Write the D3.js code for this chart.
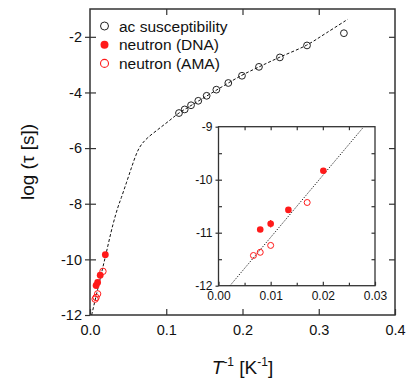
<!DOCTYPE html>
<html>
<head>
<meta charset="utf-8">
<script src="https://cdn.jsdelivr.net/npm/d3@7"></script>
<style>
  html, body { margin: 0; padding: 0; background: #fff; }
  svg { display: block; font-family: "Liberation Sans", Arial, Helvetica, sans-serif; }
</style>
</head>
<body>
<div id="chart"></div>
<script>
// ac susceptibility (black open circles)
const acX = [0.1167, 0.1242, 0.1325, 0.1420, 0.1530, 0.1657, 0.1814, 0.1993, 0.2216, 0.2490, 0.2846, 0.3330];
const acY = [-4.74, -4.61, -4.46, -4.30, -4.12, -3.90, -3.66, -3.40, -3.08, -2.74, -2.31, -1.87];

// neutron DNA (red filled) and AMA (red open)
const dnaX = [0.0080, 0.0100, 0.0134, 0.0201];
const dnaY = [-10.94, -10.83, -10.57, -9.83];
const dnaErr = [0.03, 0.07, 0.03, 0.03];
const amaX = [0.0067, 0.0080, 0.0100, 0.0170];
const amaY = [-11.43, -11.37, -11.24, -10.43];

// dashed fit curve
const fitX = [0.0022, 0.010, 0.020, 0.030, 0.0367, 0.0411, 0.0477, 0.0542, 0.0600, 0.0645, 0.0690, 0.0760, 0.0892, 0.1023, 0.1167, 0.1355, 0.1650, 0.1980, 0.2210, 0.2490, 0.2840, 0.3100, 0.3380];
const fitY = [-12.0, -11.08, -9.92, -8.76, -8.12, -7.78, -7.25, -6.72, -6.27, -6.00, -5.82, -5.62, -5.33, -5.05, -4.74, -4.42, -3.93, -3.40, -3.09, -2.73, -2.30, -1.86, -1.37];

// dotted line in the inset
const arrX = [0.0022, 0.0276];
const arrY = [-12.0, -9.03];

const mainXTicks = [0, 0.1, 0.2, 0.3, 0.4];
const mainXLabels = ["0.0", "0.1", "0.2", "0.3", "0.4"];
const mainYTicks = [-12, -10, -8, -6, -4, -2];
const mainYLabels = ["-12", "-10", "-8", "-6", "-4", "-2"];
const insetXTicks = [0, 0.01, 0.02, 0.03];
const insetXLabels = ["0.00", "0.01", "0.02", "0.03"];
const insetYTicks = [-12, -11, -10, -9];
const insetYLabels = ["-12", "-11", "-10", "-9"];
const insetXMinor = [0.005, 0.015, 0.025];
const insetYMinor = [-11.5, -10.5, -9.5];

const legendLabels = ["ac susceptibility", "neutron (DNA)", "neutron (AMA)"];

const width = 412, height = 381;
const red = "#ff1a1a";

const svg = d3.select("#chart").append("svg")
  .attr("width", width).attr("height", height);

// ---- main panel ----
const x = d3.scaleLinear().domain([0, 0.4]).range([90, 395]);
const y = d3.scaleLinear().domain([-12, -1]).range([315, 9]);

svg.append("defs").append("clipPath").attr("id", "mainClip")
  .append("rect").attr("x", 90).attr("y", 9).attr("width", 305).attr("height", 306);

function styleAxis(g, size) {
  g.select(".domain").remove();
  g.selectAll("line").attr("stroke", "#333").attr("stroke-width", 1.2);
  g.selectAll("text").attr("fill", "#111").style("font-size", size + "px");
}

// bottom (inward ticks)
svg.append("g").attr("transform", "translate(0,315)")
  .call(d3.axisBottom(x).tickValues(mainXTicks).tickSize(-6).tickPadding(10)
    .tickFormat((d, i) => mainXLabels[i]))
  .call(g => styleAxis(g, 14.5));
// top
svg.append("g").attr("transform", "translate(0,9)")
  .call(d3.axisTop(x).tickValues(mainXTicks.slice(1, 4)).tickSize(-6).tickFormat(""))
  .call(g => styleAxis(g, 14));
// left: outward with labels, plus inward
svg.append("g").attr("transform", "translate(90,0)")
  .call(d3.axisLeft(y).tickValues(mainYTicks).tickSize(5).tickPadding(3)
    .tickFormat((d, i) => mainYLabels[i]))
  .call(g => styleAxis(g, 14.5));
svg.append("g").attr("transform", "translate(90,0)")
  .call(d3.axisLeft(y).tickValues(mainYTicks.slice(1)).tickSize(-6).tickFormat(""))
  .call(g => styleAxis(g, 14));
// right
svg.append("g").attr("transform", "translate(395,0)")
  .call(d3.axisRight(y).tickValues(mainYTicks.slice(1)).tickSize(-6).tickFormat(""))
  .call(g => styleAxis(g, 14));

svg.append("rect").attr("x", 90).attr("y", 9).attr("width", 305).attr("height", 306)
  .attr("fill", "none").attr("stroke", "#333").attr("stroke-width", 1.5);

// fit curve
const fitLine = d3.line().x(d => x(d[0])).y(d => y(d[1])).curve(d3.curveCatmullRom.alpha(0.5));
svg.append("path")
  .datum(fitX.map((v, i) => [v, fitY[i]]))
  .attr("clip-path", "url(#mainClip)")
  .attr("d", fitLine)
  .attr("fill", "none").attr("stroke", "#111").attr("stroke-width", 1)
  .attr("stroke-dasharray", "3,2");

// ac points
svg.append("g").selectAll("circle")
  .data(acX.map((v, i) => [v, acY[i]]))
  .join("circle")
  .attr("cx", d => x(d[0])).attr("cy", d => y(d[1])).attr("r", 3.4)
  .attr("fill", "none").attr("stroke", "#222").attr("stroke-width", 1);

// neutron points in main
svg.append("g").selectAll("circle")
  .data(dnaX.map((v, i) => [v, dnaY[i]]))
  .join("circle")
  .attr("cx", d => x(d[0])).attr("cy", d => y(d[1])).attr("r", 3.4)
  .attr("fill", red);
svg.append("g").selectAll("circle")
  .data(amaX.map((v, i) => [v, amaY[i]]))
  .join("circle")
  .attr("cx", d => x(d[0])).attr("cy", d => y(d[1])).attr("r", 3.2)
  .attr("fill", "none").attr("stroke", red).attr("stroke-width", 1);

// legend
const legend = svg.append("g");
legendLabels.forEach((label, i) => {
  const ly = 26 + i * 18.7;
  const c = legend.append("circle").attr("cx", 104.5).attr("cy", ly).attr("r", 4);
  if (i === 0) c.attr("fill", "none").attr("stroke", "#222").attr("stroke-width", 1);
  if (i === 1) c.attr("fill", red);
  if (i === 2) c.attr("fill", "none").attr("stroke", red).attr("stroke-width", 1.1);
  legend.append("text").attr("x", 119).attr("y", ly + 5.5)
    .style("font-size", "15.5px").attr("fill", "#111").text(label);
});

// axis titles
const xt = svg.append("text").attr("x", 242.5).attr("y", 374)
  .attr("text-anchor", "middle").style("font-size", "19px").attr("fill", "#111");
xt.append("tspan").style("font-style", "italic").text("T");
xt.append("tspan").attr("dy", -8).style("font-size", "12px").text("-1");
xt.append("tspan").attr("dy", 8).text(" [K");
xt.append("tspan").attr("dy", -8).style("font-size", "12px").text("-1");
xt.append("tspan").attr("dy", 8).text("]");

svg.append("text")
  .attr("transform", "translate(34,162) rotate(-90)")
  .attr("text-anchor", "middle").style("font-size", "19px").attr("fill", "#111")
  .text("log (τ [s])");

// ---- inset ----
const ix = d3.scaleLinear().domain([0, 0.03]).range([218.5, 375]);
const iy = d3.scaleLinear().domain([-12, -9]).range([285.7, 126.7]);

svg.append("defs").append("clipPath").attr("id", "insetClip")
  .append("rect").attr("x", 218.5).attr("y", 126.7).attr("width", 156.5).attr("height", 159);

svg.append("rect").attr("x", 218.5).attr("y", 126.7).attr("width", 156.5).attr("height", 159)
  .attr("fill", "#fff");

svg.append("g").attr("transform", "translate(0,285.7)")
  .call(d3.axisBottom(ix).tickValues(insetXTicks).tickSize(-4).tickPadding(6)
    .tickFormat((d, i) => insetXLabels[i]))
  .call(g => styleAxis(g, 12));
svg.append("g").attr("transform", "translate(0,285.7)")
  .call(d3.axisBottom(ix).tickValues(insetXMinor).tickSize(-3).tickFormat(""))
  .call(g => styleAxis(g, 12));
svg.append("g").attr("transform", "translate(0,126.7)")
  .call(d3.axisTop(ix).tickValues(insetXTicks.slice(1, 3).concat(insetXMinor)).tickSize(-3.5).tickFormat(""))
  .call(g => styleAxis(g, 12));
svg.append("g").attr("transform", "translate(218.5,0)")
  .call(d3.axisLeft(iy).tickValues(insetYTicks).tickSize(3).tickPadding(3)
    .tickFormat((d, i) => insetYLabels[i]))
  .call(g => styleAxis(g, 12));
svg.append("g").attr("transform", "translate(218.5,0)")
  .call(d3.axisLeft(iy).tickValues(insetYTicks.slice(1, 3).concat(insetYMinor)).tickSize(-3.5).tickFormat(""))
  .call(g => styleAxis(g, 12));
svg.append("g").attr("transform", "translate(375,0)")
  .call(d3.axisRight(iy).tickValues(insetYTicks.slice(1, 3).concat(insetYMinor)).tickSize(-3.5).tickFormat(""))
  .call(g => styleAxis(g, 12));

svg.append("rect").attr("x", 218.5).attr("y", 126.7).attr("width", 156.5).attr("height", 159)
  .attr("fill", "none").attr("stroke", "#333").attr("stroke-width", 1.3);

svg.append("path")
  .datum(arrX.map((v, i) => [v, arrY[i]]))
  .attr("clip-path", "url(#insetClip)")
  .attr("d", d3.line().x(d => ix(d[0])).y(d => iy(d[1])))
  .attr("fill", "none").attr("stroke", "#222").attr("stroke-width", 1)
  .attr("stroke-dasharray", "1.3,1.5");

// DNA with error bars
const dnaPts = dnaX.map((v, i) => ({ x: v, y: dnaY[i], e: dnaErr[i] }));
svg.append("g").selectAll("line")
  .data(dnaPts).join("line")
  .attr("x1", d => ix(d.x)).attr("x2", d => ix(d.x))
  .attr("y1", d => iy(d.y - d.e)).attr("y2", d => iy(d.y + d.e))
  .attr("stroke", red).attr("stroke-width", 1.2);
svg.append("g").selectAll("circle")
  .data(dnaPts).join("circle")
  .attr("cx", d => ix(d.x)).attr("cy", d => iy(d.y)).attr("r", 3.3)
  .attr("fill", red);
svg.append("g").selectAll("circle")
  .data(amaX.map((v, i) => [v, amaY[i]]))
  .join("circle")
  .attr("cx", d => ix(d[0])).attr("cy", d => iy(d[1])).attr("r", 3)
  .attr("fill", "none").attr("stroke", red).attr("stroke-width", 1);
</script>
</body>
</html>
